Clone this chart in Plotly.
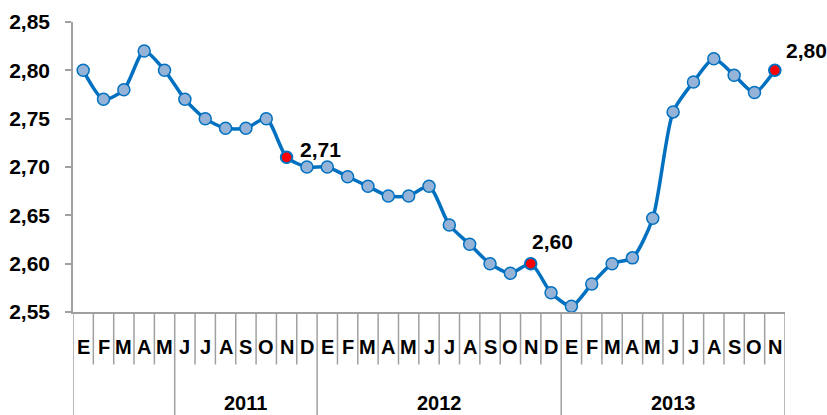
import plotly.graph_objects as go

months = ["E","F","M","A","M","J","J","A","S","O","N","D",
          "E","F","M","A","M","J","J","A","S","O","N","D",
          "E","F","M","A","M","J","J","A","S","O","N"]
year_groups = [("", 0, 4), ("2011", 5, 11), ("2012", 12, 23), ("2013", 24, 34)]
values = [2.80, 2.77, 2.78, 2.82, 2.80, 2.77, 2.75, 2.74, 2.74, 2.75, 2.71, 2.70,
          2.70, 2.69, 2.68, 2.67, 2.67, 2.68, 2.64, 2.62, 2.60, 2.59, 2.60, 2.57,
          2.556, 2.579, 2.60, 2.606, 2.647, 2.757, 2.788, 2.812, 2.795, 2.777, 2.80]
highlight = [10, 22, 34]
label_offsets = {10: (11, 8), 22: (-1, 22), 34: (9, 20)}

x = list(range(len(values)))
font = "Liberation Sans, Arial, sans-serif"
grey = "#A0A0A0"

fig = go.Figure()
fig.add_trace(go.Scatter(
    x=x, y=values, mode="lines+markers",
    line=dict(color="#0070C0", width=3.5, shape="spline", smoothing=0.7),
    marker=dict(size=12, color="#95B3D7", line=dict(color="#0070C0", width=1.5)),
    hoverinfo="skip", showlegend=False, cliponaxis=False))
fig.add_trace(go.Scatter(
    x=[x[i] for i in highlight], y=[values[i] for i in highlight], mode="markers",
    marker=dict(size=11, color="#FF0000", line=dict(color="#0070C0", width=1.5)),
    hoverinfo="skip", showlegend=False, cliponaxis=False))

for i in highlight:
    dx, dy = label_offsets[i]
    fig.add_annotation(x=x[i], y=values[i], text=f"{values[i]:.2f}".replace(".", ","),
                       showarrow=False, xanchor="left", yanchor="middle",
                       xshift=dx, yshift=dy,
                       font=dict(family=font, size=21, color="black", weight="bold"))

# month labels and separators
for i, m in enumerate(months):
    fig.add_annotation(x=i, y=-0.122, xref="x", yref="paper", text=m, showarrow=False,
                       font=dict(family=font, size=20, color="black", weight="bold"),
                       xanchor="center", yanchor="middle")
group_edges = set()
for name, a, b in year_groups:
    group_edges.add(a - 0.5)
    group_edges.add(b + 0.5)
for k in range(len(months) + 1):
    xe = k - 0.5
    y1 = -0.36 if xe in group_edges else -0.181
    fig.add_shape(type="line", x0=xe, x1=xe, y0=0, y1=y1, xref="x", yref="paper",
                  line=dict(color=grey, width=1.5))
for name, a, b in year_groups:
    if name:
        fig.add_annotation(x=(a + b) / 2, y=-0.313, xref="x", yref="paper", text=name,
                           showarrow=False,
                           font=dict(family=font, size=20, color="black", weight="bold"),
                           xanchor="center", yanchor="middle")

fig.update_layout(
    width=827, height=415,
    margin=dict(l=73, r=42, t=22, b=102.5),
    paper_bgcolor="white", plot_bgcolor="white",
    separators=",.",
    xaxis=dict(range=[-0.5, len(months) - 0.5], showgrid=False, zeroline=False,
               showticklabels=False, showline=True, linecolor=grey, linewidth=1.5,
               ticks=""),
    yaxis=dict(range=[2.55, 2.85], dtick=0.05, tick0=2.55, tickformat=".2f",
               showgrid=False, zeroline=False, showline=True, linecolor=grey,
               linewidth=1.5, ticks="outside", ticklen=6, tickcolor=grey, tickwidth=1.5,
               tickfont=dict(family=font, size=21, color="black", weight="bold"),
               ticklabelstandoff=11, automargin=False),
)
fig.write_html("out.html", config={"displayModeBar": False},
               post_script="document.body.style.margin='0';document.body.style.overflow='hidden';")
